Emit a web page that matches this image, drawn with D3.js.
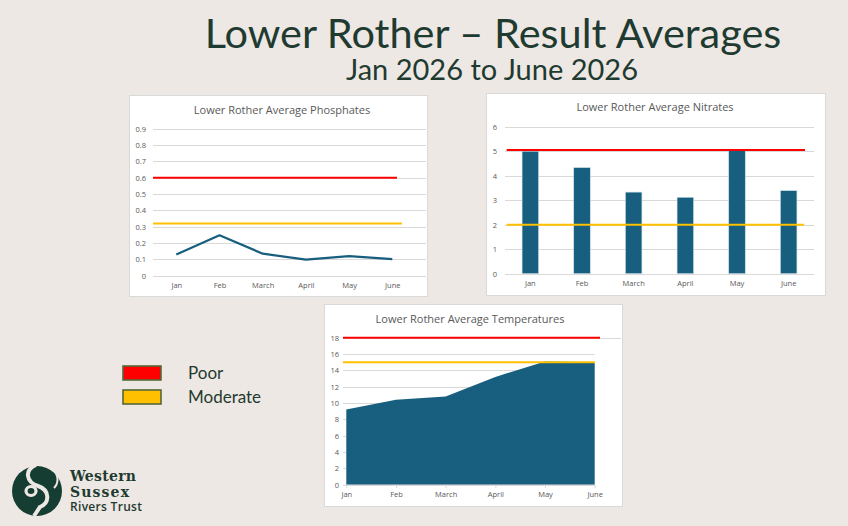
<html>
<head>
    <script src="https://d3js.org/d3.v7.min.js"></script>
    <style>
        body { margin: 0; background: #ede8e4; }
        svg text { font-family: "Open Sans", sans-serif; }
    </style>
</head>
<body>
    <svg id="slide"></svg>

    <script>
        var Width = 848, Height = 526;

        // data
        var months = ["Jan", "Feb", "March", "April", "May", "June"];
        var phosphates = [0.13, 0.247, 0.135, 0.098, 0.12, 0.102];
        var nitrates = [5.0, 4.33, 3.33, 3.12, 5.04, 3.39];
        var temperatures = [9.2, 10.4, 10.8, 13.2, 15.1, 15.0];

        // thresholds: [poor, moderate]
        var levelNames = ["Poor", "Moderate"];
        var phosLevels = [0.6, 0.32];
        var nitLevels = [5.05, 2.0];
        var tempLevels = [18, 15];

        var phosTicks = [0, 0.1, 0.2, 0.3, 0.4, 0.5, 0.6, 0.7, 0.8, 0.9];
        var nitTicks = [0, 1, 2, 3, 4, 5, 6];
        var tempTicks = [0, 2, 4, 6, 8, 10, 12, 14, 16, 18];

        var levelColours = ["#ff0000", "#ffc000"];
        var Blue = "#175e7f", Grid = "#d9d9d9", Label = "#595959", Ink = "#1f3a30";

        var svg = d3.select("#slide")
            .attr("width", Width)
            .attr("height", Height);

        svg.append("rect")
            .attr("width", Width).attr("height", Height)
            .attr("fill", "#ede8e4");

        // slide title
        svg.append("text")
            .attr("x", 493).attr("y", 48)
            .attr("text-anchor", "middle")
            .style("font-family", "Lato, sans-serif")
            .style("font-size", "41.5px")
            .attr("fill", Ink)
            .text("Lower Rother \u2013 Result Averages");

        svg.append("text")
            .attr("x", 492).attr("y", 80)
            .attr("text-anchor", "middle")
            .style("font-family", "Lato, sans-serif")
            .style("font-size", "29px")
            .attr("fill", Ink)
            .text("Jan 2026 to June 2026");

        function panel(p, title, titleX, titleY)
        {
            svg.append("rect")
                .attr("x", p.x + 0.5).attr("y", p.y + 0.5)
                .attr("width", p.w).attr("height", p.h)
                .attr("fill", "#ffffff")
                .attr("stroke", "#d9d9d9");
            svg.append("text")
                .attr("x", titleX).attr("y", titleY)
                .attr("text-anchor", "middle")
                .style("font-size", "11px")
                .attr("fill", Label)
                .text(title);
        }

        function gridAndAxis(y, ticks, fmt, gx0, gx1, pad)
        {
            var g = svg.append("g");
            g.selectAll("line")
                .data(ticks)
                .enter()
                .append("line")
                    .attr("x1", gx0).attr("x2", gx1)
                    .attr("y1", function(d){ return Math.round(y(d)) + 0.5 })
                    .attr("y2", function(d){ return Math.round(y(d)) + 0.5 })
                    .attr("stroke", Grid);

            var ax = svg.append("g")
                .attr("transform", "translate(" + gx0 + ",0)")
                .call(d3.axisLeft(y).tickValues(ticks).tickFormat(fmt).tickSize(0).tickPadding(pad));
            ax.select(".domain").remove();
            ax.selectAll("text").attr("fill", Label).style("font-size", "7.5px");
        }

        function xAxis(x, yPos, size, pad)
        {
            var ax = svg.append("g")
                .attr("transform", "translate(0," + yPos + ")")
                .call(d3.axisBottom(x).tickSize(size).tickPadding(pad));
            ax.select(".domain").remove();
            ax.selectAll("line").attr("stroke", Grid);
            ax.selectAll("text").attr("fill", Label).style("font-size", "7.5px");
        }

        function levels(y, vals, ends, x0)
        {
            svg.selectAll(null)
                .data(vals)
                .enter()
                .append("line")
                    .attr("x1", x0)
                    .attr("x2", function(d, i){ return ends[i] })
                    .attr("y1", function(d){ return y(d) })
                    .attr("y2", function(d){ return y(d) })
                    .attr("stroke", function(d, i){ return levelColours[i] })
                    .attr("stroke-width", 2);
        }

        // ---- phosphates: line chart
        panel({x:129, y:95, w:298, h:201}, "Lower Rother Average Phosphates", 282, 114);
        var phosY = d3.scaleLinear().domain([0, 0.9]).range([275.7, 128.7]);
        var phosX = d3.scalePoint().domain(months).range([176.3, 392.3]);
        gridAndAxis(phosY, phosTicks, d3.format(""), 153, 426, 7);
        xAxis(phosX, 276, 0, 7);
        levels(phosY, phosLevels, [397, 402], 153);
        svg.append("path")
            .datum(phosphates)
            .attr("fill", "none")
            .attr("stroke", Blue)
            .attr("stroke-width", 2.2)
            .attr("stroke-linejoin", "round")
            .attr("d", d3.line()
                .x(function(d, i){ return phosX(months[i]) })
                .y(function(d){ return phosY(d) }));

        // ---- nitrates: bar chart
        panel({x:486, y:93, w:339, h:202}, "Lower Rother Average Nitrates", 655, 111);
        var nitY = d3.scaleLinear().domain([0, 6]).range([273.7, 126.7]);
        var nitX = d3.scaleBand().domain(months).range([504.5, 814.5]).paddingInner(0.68).paddingOuter(0.34);
        gridAndAxis(nitY, nitTicks, d3.format("d"), 505, 814, 8);
        svg.selectAll(null)
            .data(nitrates)
            .enter()
            .append("rect")
                .attr("x", function(d, i){ return nitX(months[i]) })
                .attr("width", nitX.bandwidth())
                .attr("y", function(d){ return nitY(d) })
                .attr("height", function(d){ return nitY(0) - nitY(d) })
                .attr("fill", Blue)
                .attr("stroke", "#cfe0ea")
                .attr("stroke-width", 0.6);
        xAxis(nitX, 274, 0, 7);
        levels(nitY, nitLevels, [805, 804], 506.7);

        // ---- temperatures: area chart
        panel({x:324, y:304, w:298, h:202}, "Lower Rother Average Temperatures", 470, 323);
        var tempY = d3.scaleLinear().domain([0, 18]).range([484.7, 337.7]);
        var tempX = d3.scalePoint().domain(months).range([346.3, 594.7]);
        gridAndAxis(tempY, tempTicks, d3.format("d"), 343, 594.7, 4);
        svg.append("line")
            .attr("x1", 594.7).attr("x2", 621)
            .attr("y1", Math.round(tempY(18)) + 0.5).attr("y2", Math.round(tempY(18)) + 0.5)
            .attr("stroke", Grid);
        svg.append("path")
            .datum(temperatures)
            .attr("fill", Blue)
            .attr("d", d3.area()
                .x(function(d, i){ return tempX(months[i]) })
                .y0(tempY(0))
                .y1(function(d){ return tempY(d) }));
        svg.append("line")
            .attr("x1", 343).attr("x2", 594.7)
            .attr("y1", tempY(0) + 0.5).attr("y2", tempY(0) + 0.5)
            .attr("stroke", Grid);
        xAxis(tempX, 485, 3, 4);
        levels(tempY, tempLevels, [600, 595], 343);

        // ---- legend
        var legend = svg.append("g");
        legend.selectAll("rect")
            .data(levelNames)
            .enter()
            .append("rect")
                .attr("x", 123)
                .attr("y", function(d, i){ return 366 + i * 24 })
                .attr("width", 38).attr("height", 14)
                .attr("fill", function(d, i){ return levelColours[i] })
                .attr("stroke", "#55683a")
                .attr("stroke-width", 1.6);
        legend.selectAll("text")
            .data(levelNames)
            .enter()
            .append("text")
                .attr("x", 188)
                .attr("y", function(d, i){ return 378.5 + i * 24 })
                .style("font-family", "Lato, sans-serif")
                .style("font-size", "17px")
                .attr("fill", Ink)
                .text(function(d){ return d });

        // ---- logo
        var logo = svg.append("g");
        logo.append("circle")
            .attr("cx", 37).attr("cy", 491).attr("r", 25)
            .attr("fill", "#163d31");
        logo.append("path")
            .attr("d", "M36,465 C24,470 26,482 38,486 C50,490 50,503 40,507 L34,516")
            .attr("fill", "none")
            .attr("stroke", "#ede8e4")
            .attr("stroke-width", 4);
        logo.append("ellipse")
            .attr("cx", 31).attr("cy", 491).attr("rx", 5).attr("ry", 4.5)
            .attr("fill", "none")
            .attr("stroke", "#ede8e4")
            .attr("stroke-width", 3.2);
        logo.append("path")
            .attr("d", "M52,468 C60,476 58,484 54,488")
            .attr("fill", "none")
            .attr("stroke", "#ede8e4")
            .attr("stroke-width", 2);

        logo.append("text")
            .attr("x", 70).attr("y", 481)
            .style("font-family", "'DejaVu Serif', serif")
            .style("font-size", "14px")
            .style("font-weight", "bold")
            .attr("textLength", 66)
            .attr("fill", Ink)
            .text("Western");
        logo.append("text")
            .attr("x", 70).attr("y", 497)
            .style("font-family", "'DejaVu Serif', serif")
            .style("font-size", "14px")
            .style("font-weight", "bold")
            .attr("textLength", 59)
            .attr("fill", Ink)
            .text("Sussex");
        logo.append("text")
            .attr("x", 70).attr("y", 511)
            .style("font-size", "12px")
            .style("font-weight", "600")
            .attr("textLength", 72)
            .attr("fill", Ink)
            .text("Rivers Trust");
    </script>
</body>
</html>
